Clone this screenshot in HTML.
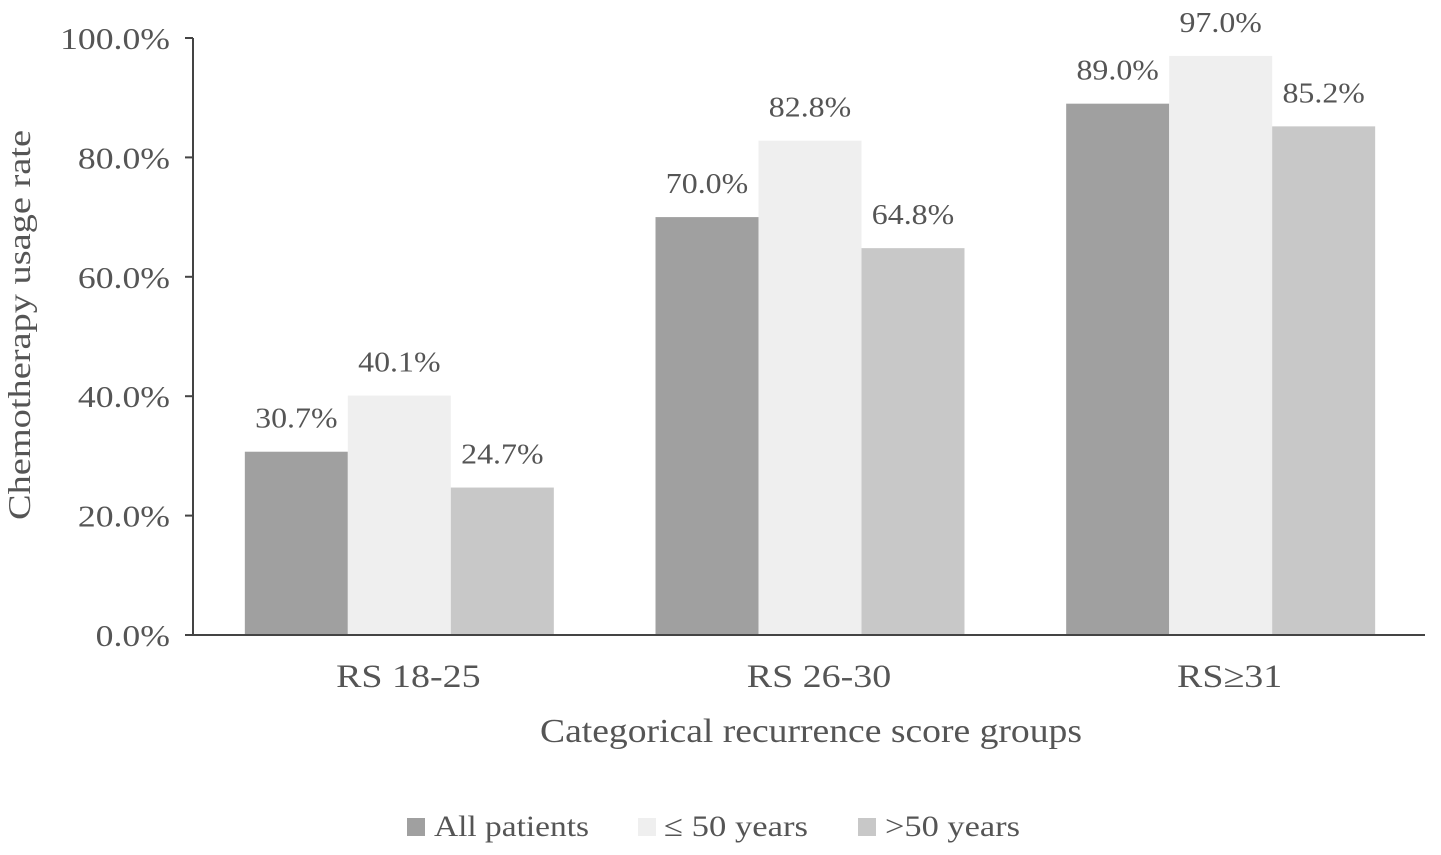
<!DOCTYPE html>
<html><head><meta charset="utf-8">
<style>
html,body{margin:0;padding:0;background:#fff;}
svg{display:block;font-family:"Liberation Serif",serif;}
</style></head>
<body>
<svg id="chart" width="1441" height="855" viewBox="0 0 1441 855">
<g id="ticks"></g>
<g id="bars"></g>
<g id="xlabels"></g>
<text x="30" y="325" transform="rotate(-90 30 325)" text-anchor="middle" font-size="32" fill="#555" textLength="390" lengthAdjust="spacingAndGlyphs">Chemotherapy usage rate</text>
<text x="811" y="742" text-anchor="middle" font-size="34" fill="#555" textLength="542" lengthAdjust="spacingAndGlyphs">Categorical recurrence score groups</text>
<g>
<g><rect x="407" y="818" width="18" height="18" fill="#a0a0a0"/><text x="434" y="836" font-size="30" fill="#555" textLength="155" lengthAdjust="spacingAndGlyphs">All patients</text></g>
<g><rect x="638" y="818" width="18" height="18" fill="#efefef"/><text x="664" y="836" font-size="30" fill="#555" textLength="144" lengthAdjust="spacingAndGlyphs">≤ 50 years</text></g>
<g><rect x="858" y="818" width="18" height="18" fill="#c8c8c8"/><text x="885" y="836" font-size="30" fill="#555" textLength="135" lengthAdjust="spacingAndGlyphs">&gt;50 years</text></g>
</g>
</svg>
<script>
const categories = ["RS 18-25", "RS 26-30", "RS≥31"];
const allPatients = [30.7, 70.0, 89.0];
const under50 = [40.1, 82.8, 97.0];
const over50 = [24.7, 64.8, 85.2];
const yTicks = [0, 20, 40, 60, 80, 100];

const NS = "http://www.w3.org/2000/svg";
const x0 = 193, x1 = 1425, yTop = 38, yBot = 635;
const y = v => yBot - (v / 100) * (yBot - yTop);
const catW = (x1 - x0) / categories.length;
const catX = i => x0 + catW * (i + 0.5);
const barW = 103;
function mk(tag, attrs, parent) {
  const e = document.createElementNS(NS, tag);
  for (const k in attrs) e.setAttribute(k, attrs[k]);
  parent.appendChild(e);
  return e;
}
function stretch(t, f) {
  const w = t.getComputedTextLength();
  t.setAttribute("textLength", (w * f).toFixed(1));
  t.setAttribute("lengthAdjust", "spacingAndGlyphs");
}
const tg = document.getElementById("ticks");
mk("line", {x1: x0, y1: yTop, x2: x0, y2: yBot, stroke: "#444", "stroke-width": 2}, tg);
yTicks.forEach(t => {
  mk("line", {x1: x0 - 8, y1: y(t), x2: x0, y2: y(t), stroke: "#444", "stroke-width": 2}, tg);
  const tx = mk("text", {x: x0 - 23, y: y(t) + 11, "text-anchor": "end", "font-size": 31, fill: "#555"}, tg);
  tx.textContent = t.toFixed(1) + "%";
  
  
  stretch(tx, 1.15);
});
const bg = document.getElementById("bars");
const series = [[allPatients, "#a0a0a0", "all"], [under50, "#efefef", "le50"], [over50, "#c8c8c8", "gt50"]];
categories.forEach((c, i) => {
  series.forEach((s, j) => {
    const v = s[0][i];
    const bx = catX(i) - 1.5 * barW + j * barW + 1;
    const r = mk("rect", {x: bx, y: y(v), width: barW, height: yBot - y(v), fill: s[1]}, bg);
    
    
    const lt = mk("text", {x: bx + barW / 2, y: y(v) - 24, "text-anchor": "middle", "font-size": 29, fill: "#555"}, bg);
    lt.textContent = v.toFixed(1) + "%";
    
    
    stretch(lt, 1.1);
  });
});
const xg = document.getElementById("xlabels");
mk("line", {x1: x0, y1: yBot, x2: x1, y2: yBot, stroke: "#444", "stroke-width": 2}, xg);
categories.forEach((c, i) => {
  const t = mk("text", {x: catX(i) + 10, y: 687, "text-anchor": "middle", "font-size": 33, fill: "#555"}, xg);
  t.textContent = c;
  
  
  stretch(t, 1.15);
});
</script>
</body></html>
